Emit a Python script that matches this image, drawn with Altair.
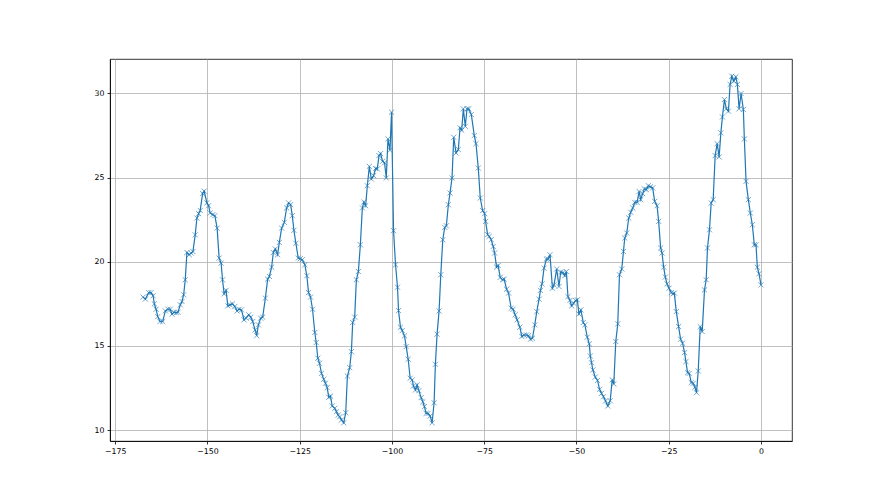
import altair as alt
import pandas as pd

# Time offsets (hours)
hours = [
    -167.43, -166.81, -165.89, -165.27, -164.73, -164.38, -163.92, -163.46, -162.84, -162.11,
    -161.41, -160.68, -160.06, -159.60, -159.06, -158.44, -157.98, -157.36, -156.90, -156.44,
    -156.01, -155.55, -154.93, -154.39, -153.93, -153.31, -152.85, -152.39, -151.96, -151.31,
    -150.88, -150.15, -149.69, -149.26, -148.53, -147.99, -147.37, -146.83, -146.29, -145.91,
    -145.48, -144.94, -144.48, -143.86, -143.21, -142.59, -141.97, -141.43, -140.78, -140.08,
    -139.54, -138.81, -138.27, -137.73, -137.10, -136.65, -136.19, -135.57, -135.03, -134.30,
    -133.68, -133.22, -132.60, -132.14, -131.60, -130.98, -130.52, -129.89, -129.17, -128.54,
    -128.00, -127.46, -127.00, -126.57, -126.03, -125.39, -124.84, -124.30, -123.60, -123.06,
    -122.60, -122.06, -121.52, -120.90, -120.52, -120.09, -119.63, -119.09, -118.47, -118.01,
    -117.55, -117.12, -116.66, -116.20, -115.50, -115.04, -114.58, -114.15, -113.69, -113.07,
    -112.53, -112.07, -111.45, -110.99, -110.64, -110.10, -109.64, -109.10, -108.56, -108.02,
    -107.62, -107.13, -106.67, -106.13, -105.59, -104.97, -104.43, -103.97, -103.51, -103.08,
    -102.54, -102.00, -101.54, -101.08, -100.54, -100.11, -99.57, -99.03, -98.49, -98.22,
    -97.68, -97.22, -96.60, -96.14, -95.60, -95.06, -94.52, -94.17, -93.63, -93.17,
    -92.71, -92.09, -91.63, -91.20, -90.74, -90.20, -89.66, -89.12, -88.58, -88.23,
    -87.77, -87.23, -86.77, -86.23, -85.69, -85.26, -84.72, -84.26, -83.72, -83.26,
    -82.64, -82.01, -81.56, -81.10, -80.66, -80.12, -79.66, -79.21, -78.50, -77.69,
    -77.23, -76.61, -76.07, -75.43, -74.89, -74.62, -74.08, -73.64, -73.10, -72.56,
    -72.18, -71.65, -71.21, -70.67, -70.02, -69.59, -68.94, -68.40, -67.70, -67.16,
    -66.62, -66.08, -65.35, -64.81, -64.19, -63.54, -63.00, -62.46, -61.92, -61.30,
    -60.76, -60.14, -59.76, -59.33, -58.79, -58.14, -57.71, -57.17, -56.52, -56.09,
    -55.36, -54.74, -54.28, -53.66, -53.20, -52.74, -52.31, -51.77, -51.31, -50.77,
    -50.23, -49.77, -49.34, -48.80, -48.15, -47.72, -47.07, -46.53, -46.26, -45.91,
    -45.56, -44.91, -44.29, -43.75, -43.21, -42.67, -42.13, -41.51, -40.86, -40.32,
    -39.89, -39.35, -38.81, -38.35, -37.73, -37.27, -36.92, -36.38, -35.84, -35.30,
    -34.76, -34.22, -33.57, -33.03, -32.60, -32.06, -31.60, -31.06, -30.52, -29.98,
    -29.35, -28.81, -28.17, -27.73, -27.19, -26.82, -26.38, -25.93, -25.47, -24.93,
    -24.30, -23.85, -23.49, -22.95, -22.33, -21.79, -21.25, -20.71, -20.34, -19.90,
    -19.44, -18.90, -18.36, -17.90, -17.47, -17.01, -16.47, -15.93, -15.31, -14.85,
    -14.50, -13.96, -13.50, -12.96, -12.42, -11.88, -11.34, -10.88, -10.45, -9.91,
    -9.37, -8.83, -8.37, -7.91, -7.37, -6.83, -6.40, -5.94, -5.40, -4.78,
    -4.51, -4.05, -3.43, -2.89, -2.35, -1.81, -1.35, -1.00, -0.54, 0.00,
]

values = [
    17.90, 17.78, 18.17, 18.17, 17.98, 17.50, 17.18, 16.74, 16.45, 16.45,
    17.08, 17.18, 17.18, 16.89, 17.00, 16.98, 17.00, 17.44, 17.64, 18.04,
    18.93, 20.55, 20.42, 20.52, 20.61, 21.60, 22.60, 22.86, 23.05, 24.05,
    24.20, 23.50, 23.33, 22.90, 22.80, 22.74, 22.00, 20.22, 19.92, 18.93,
    18.10, 18.30, 17.38, 17.44, 17.50, 17.34, 17.08, 17.18, 17.14, 16.55,
    16.65, 16.85, 16.71, 16.45, 15.95, 15.61, 16.25, 16.65, 16.71, 17.84,
    18.97, 19.13, 19.68, 20.55, 20.76, 20.42, 21.15, 22.00, 22.34, 23.20,
    23.50, 23.40, 22.74, 21.87, 21.10, 20.22, 20.18, 20.12, 19.82, 19.17,
    18.17, 17.90, 17.18, 15.80, 15.20, 14.27, 13.97, 13.37, 13.02, 12.78,
    12.52, 11.95, 12.02, 11.43, 11.29, 11.09, 10.89, 10.79, 10.60, 10.43,
    11.03, 13.21, 13.71, 14.66, 16.39, 16.71, 18.93, 19.42, 21.01, 23.20,
    23.55, 23.33, 24.52, 25.67, 24.92, 25.12, 25.54, 25.52, 26.31, 26.43,
    25.97, 25.88, 24.98, 27.30, 26.63, 28.89, 21.85, 19.82, 18.49, 17.10,
    16.11, 15.91, 15.60, 14.96, 14.21, 13.08, 12.98, 12.62, 12.38, 12.68,
    12.34, 11.93, 11.68, 11.39, 10.99, 10.99, 10.83, 10.43, 11.62, 13.91,
    15.70, 17.08, 19.23, 21.31, 22.04, 22.14, 23.39, 24.09, 24.98, 27.40,
    26.47, 26.67, 27.96, 27.82, 29.09, 28.05, 29.09, 29.09, 28.75, 27.50,
    27.02, 25.57, 23.79, 23.04, 22.86, 22.40, 21.61, 21.51, 21.31, 20.91,
    20.52, 19.68, 19.78, 19.07, 18.93, 18.97, 18.37, 18.14, 17.24, 17.18,
    16.85, 16.55, 16.11, 15.56, 15.65, 15.65, 15.60, 15.40, 15.46, 16.25,
    17.04, 17.78, 18.30, 18.69, 19.62, 20.16, 20.16, 20.42, 18.43, 18.63,
    19.57, 18.53, 19.39, 19.36, 19.17, 19.42, 17.93, 17.70, 17.38, 17.54,
    17.70, 17.74, 16.90, 17.14, 16.39, 16.25, 15.52, 15.12, 14.40, 14.00,
    13.57, 13.15, 12.95, 12.42, 12.18, 11.98, 11.73, 11.43, 11.74, 12.98,
    12.74, 15.26, 16.31, 19.23, 19.57, 20.61, 21.41, 21.71, 22.60, 22.94,
    23.20, 23.53, 23.53, 24.18, 23.69, 24.05, 24.33, 24.29, 24.52, 24.45,
    24.39, 23.59, 23.33, 22.40, 20.82, 20.52, 19.68, 19.09, 18.69, 18.43,
    18.17, 18.10, 18.14, 17.04, 16.15, 15.40, 15.16, 14.60, 14.07, 13.41,
    13.37, 12.82, 12.78, 12.54, 12.22, 13.51, 16.15, 15.85, 18.33, 18.93,
    20.82, 21.90, 23.49, 23.69, 26.31, 27.02, 26.23, 27.66, 28.61, 29.64,
    29.09, 28.95, 30.54, 31.03, 30.73, 30.99, 30.54, 29.09, 30.00, 29.05,
    27.30, 24.78, 23.69, 22.90, 22.20, 21.01, 21.01, 19.68, 19.29, 18.63,
]

x_ticks = [-175, -150, -125, -100, -75, -50, -25, 0]
y_ticks = [10, 15, 20, 25, 30]

df = pd.DataFrame({"t": hours, "v": values})

color = "#1f77b4"

x_enc = alt.X(
    "t:Q",
    scale=alt.Scale(domain=[-176.4, 8.4], nice=False, zero=False),
    axis=alt.Axis(values=x_ticks, title=None, format="d"),
)
y_enc = alt.Y(
    "v:Q",
    scale=alt.Scale(domain=[9.35, 32.05], nice=False, zero=False),
    axis=alt.Axis(values=y_ticks, title=None, format="d"),
)

base = alt.Chart(df)

line = base.mark_line(color=color, strokeWidth=1.2).encode(x=x_enc, y=y_enc, order="t:Q")

points = base.mark_point(
    shape="M-1,-1L1,1M-1,1L1,-1",
    filled=False,
    color=color,
    stroke=color,
    strokeWidth=0.8,
    size=26,
    opacity=0.8,
).encode(x=x_enc, y=y_enc)

chart = (
    alt.layer(line, points)
    .properties(
        width=682,
        height=382,
        padding={"left": 102, "top": 51, "right": 78, "bottom": 44},
        autosize=alt.AutoSizeParams(type="none"),
        background="white",
    )
    .configure_view(stroke="black", strokeWidth=0.8)
    .configure_axis(
        grid=True,
        gridColor="#b0b0b0",
        gridWidth=0.8,
        domainColor="black",
        domainWidth=0.8,
        tickColor="black",
        tickWidth=0.8,
        tickSize=3,
        labelFont="DejaVu Sans",
        labelFontSize=7.8,
        labelColor="black",
        labelPadding=3,
    )
)

chart.save("out.html", embed_options={"renderer": "svg", "actions": False})
